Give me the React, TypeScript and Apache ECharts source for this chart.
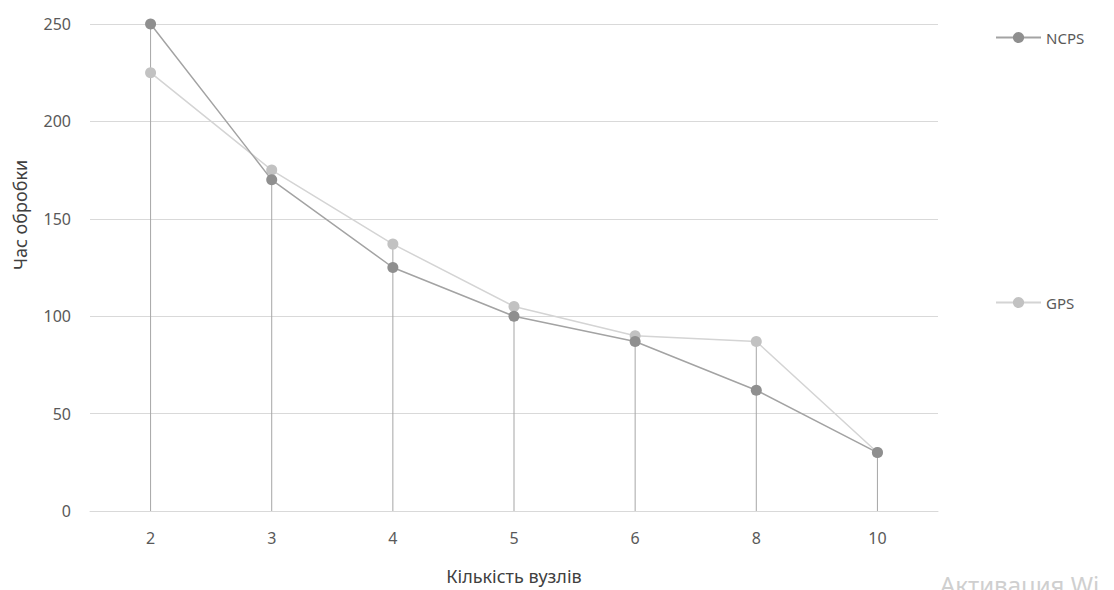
import React, { useEffect, useRef } from "react";
import * as echarts from "echarts";

const categories = ["2", "3", "4", "5", "6", "8", "10"];
const ncps = [250, 170, 125, 100, 87, 62, 30];
const gps = [225, 175, 137, 105, 90, 87, 30];
const yTicks = { min: 0, max: 250, interval: 50 };

export default function App() {
  const ref = useRef<HTMLDivElement>(null);
  useEffect(() => {
    if (!ref.current) return;
    const chart = echarts.init(ref.current, null, { renderer: "svg" });
    const drops = ncps.map((v, i) => Math.max(v, gps[i]));
    const font = "'Noto Sans', 'Open Sans', sans-serif";
    chart.setOption({
      animation: false,
      backgroundColor: "#ffffff",
      textStyle: { fontFamily: font },
      grid: { left: 90, right: 176, top: 24, bottom: 73 },
      legend: {
        data: ["NCPS", "GPS"],
        orient: "vertical",
        left: 990,
        top: 25,
        itemWidth: 45,
        itemHeight: 14,
        itemGap: 250,
        textStyle: { color: "#595959", fontSize: 15, fontFamily: font },
      },
      xAxis: {
        type: "category",
        data: categories,
        boundaryGap: true,
        name: "Кількість вузлів",
        nameLocation: "middle",
        nameGap: 56,
        nameTextStyle: { color: "#404040", fontSize: 18, fontFamily: font },
        axisLine: { show: true, lineStyle: { color: "#d9d9d9", width: 1 } },
        axisTick: { show: false },
        axisLabel: { color: "#595959", fontSize: 16, margin: 19, fontFamily: font },
      },
      yAxis: {
        type: "value",
        min: yTicks.min,
        max: yTicks.max,
        interval: yTicks.interval,
        axisLine: { show: false },
        axisTick: { show: false },
        axisLabel: { color: "#595959", fontSize: 16, margin: 19, fontFamily: font },
        splitLine: { lineStyle: { color: "#d9d9d9", width: 1 } },
      },
      series: [
        {
          name: "drop",
          type: "bar",
          data: drops,
          barWidth: 1,
          itemStyle: { color: "#a6a6a6" },
          z: 1,
          silent: true,
        },
        {
          name: "GPS",
          type: "line",
          data: gps,
          symbol: "circle",
          symbolSize: 11,
          lineStyle: { color: "#d4d4d4", width: 1.5 },
          itemStyle: { color: "#c2c2c2" },
          z: 3,
        },
        {
          name: "NCPS",
          type: "line",
          data: ncps,
          symbol: "circle",
          symbolSize: 11,
          lineStyle: { color: "#a3a3a3", width: 1.5 },
          itemStyle: { color: "#8f8f8f" },
          z: 4,
        },
      ],
      graphic: [
        {
          type: "text",
          x: 20,
          y: 215,
          rotation: Math.PI / 2,
          style: {
            text: "Час обробки",
            fill: "#404040",
            font: "18px 'Noto Sans', sans-serif",
            textAlign: "center",
            textVerticalAlign: "middle",
          },
        },
        {
          type: "text",
          left: 940,
          top: 572,
          style: {
            text: "Активация Wi",
            fill: "#cfcfcf",
            font: "24px 'Noto Sans', sans-serif",
          },
        },
      ],
    });
    return () => chart.dispose();
  }, []);
  return (
    <div
      ref={ref}
      style={{ position: "absolute", left: 0, top: 0, width: 1114, height: 590 }}
    />
  );
}
